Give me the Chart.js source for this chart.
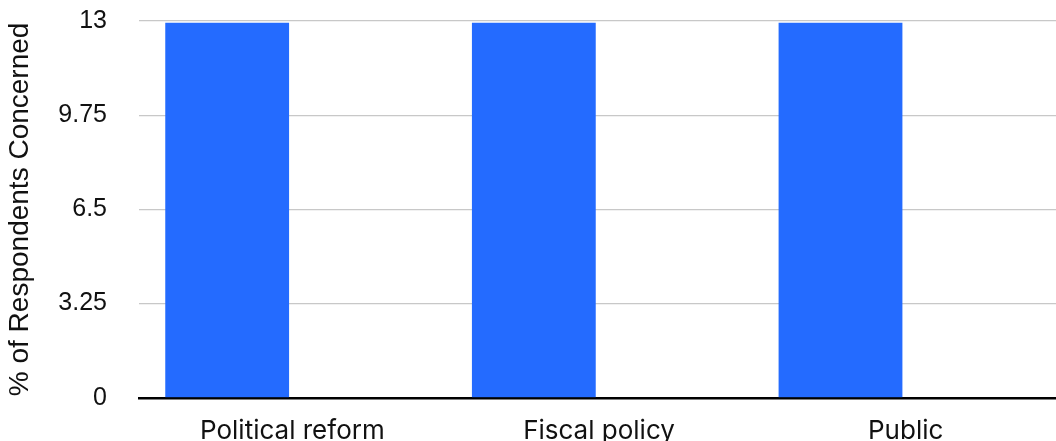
<!DOCTYPE html>
<html>
<head>
<meta charset="utf-8">
<script src="https://cdn.jsdelivr.net/npm/chart.js@4/dist/chart.umd.min.js"></script>
<style>
  html, body { margin: 0; padding: 0; overflow: hidden; background: #fff; }
  #wrap { position: relative; width: 1056px; height: 441px; overflow: hidden; }
  #concernChart { position: absolute; left: 0; top: 0; }
</style>
</head>
<body>
<div id="wrap"><canvas id="concernChart" width="1059" height="465"></canvas></div>
<script>
const categories = ['Political reform', 'Fiscal policy', 'Public'];
const concernedValues = [12.94, 12.94, 12.94];
const otherValues = [null, null, null];
const yTicks = [0, 3.25, 6.5, 9.75, 13];

const labelFont = { family: 'Inter', size: 26 };
const tickFont = { family: 'Liberation Sans', size: 25 };
const titleFont = { family: 'Liberation Sans', size: 28 };

// keep the axes from reserving extra room for overhanging labels
function noOverhang(scale) {
    scale.paddingLeft = 0;
    scale.paddingRight = 0;
    scale.paddingTop = 0;
    scale.paddingBottom = 0;
}

const ctx = document.getElementById('concernChart').getContext('2d');
new Chart(ctx, {
    type: 'bar',
    data: {
        labels: categories,
        datasets: [{
            label: 'Concerned',
            data: concernedValues,
            backgroundColor: '#246bff',
            borderWidth: 0,
            categoryPercentage: 0.85,
            barPercentage: 0.95
        }, {
            label: 'Other',
            data: otherValues,
            backgroundColor: '#246bff',
            borderWidth: 0,
            categoryPercentage: 0.85,
            barPercentage: 0.95
        }]
    },
    options: {
        responsive: false,
        animation: false,
        layout: { padding: { top: 21, left: 0, right: 0, bottom: 0 } },
        plugins: {
            legend: { display: false },
            tooltip: { enabled: false }
        },
        scales: {
            x: {
                afterFit: noOverhang,
                grid: { display: false, drawTicks: false },
                border: { display: true, color: '#000', width: 2.5 },
                ticks: {
                    color: '#111',
                    padding: 18,
                    font: labelFont
                }
            },
            y: {
                min: 0,
                max: 13,
                afterFit: scale => {
                    noOverhang(scale);
                    scale.width = 139;
                },
                afterBuildTicks: axis => {
                    axis.ticks = yTicks.map(v => ({ value: v }));
                },
                grid: { color: '#c8c8c8', lineWidth: 1.2, drawTicks: false },
                border: { display: false },
                ticks: {
                    color: '#111',
                    padding: 32,
                    font: tickFont,
                    callback: v => String(v)
                },
                title: {
                    display: true,
                    text: '% of Respondents Concerned',
                    color: '#111',
                    padding: { top: 3, bottom: 22 },
                    font: titleFont
                }
            }
        }
    }
});
</script>
</body>
</html>
